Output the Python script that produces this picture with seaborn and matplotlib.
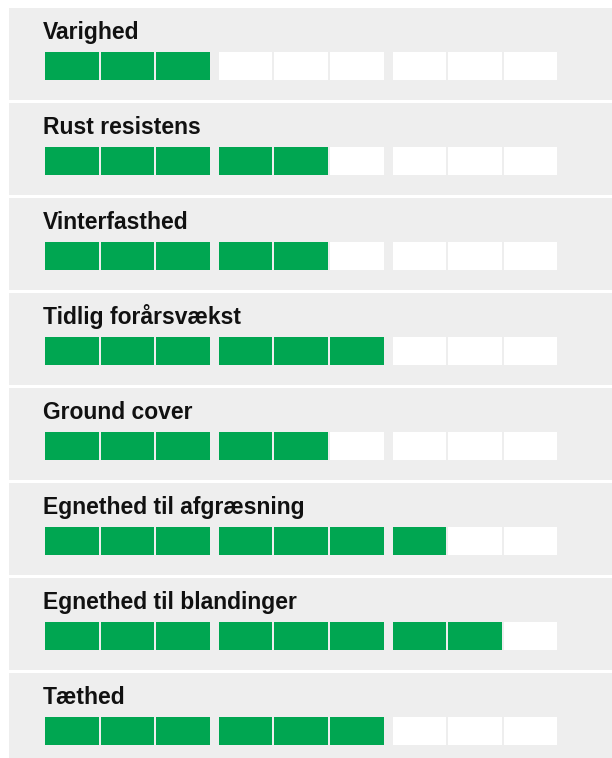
import matplotlib
matplotlib.use("Agg")
import matplotlib.pyplot as plt
import seaborn as sns
import numpy as np

# data
traits = ["Varighed", "Rust resistens", "Vinterfasthed", "Tidlig forårsvækst",
          "Ground cover", "Egnethed til afgræsning", "Egnethed til blandinger", "Tæthed"]
scores = [3, 5, 5, 6, 5, 7, 8, 6]
max_score = 9

sns.set_theme(style="white")
plt.rcParams['font.family'] = ['Liberation Sans', 'DejaVu Sans']

GREEN = "#00a651"
PANEL = "#eeeeee"

fig = plt.figure(figsize=(6.12, 7.58), dpi=100)
ax = fig.add_axes([0, 0, 1, 1])
ax.set_xlim(0, 612)
ax.set_ylim(758, 0)
ax.axis("off")

# layout in pixels
panel_x, panel_w, panel_h, panel_step, panel_top0 = 9, 610, 92, 95, 8
cell_x0, cell_step, group_gap, cell_w = 45, 55.6, 7, 53.5
cell_dy, cell_h = 44, 28

tops = panel_top0 + np.arange(len(traits)) * panel_step
ax.bar(panel_x, panel_h, width=panel_w, bottom=tops, align="edge", color=PANEL, linewidth=0)

idx = np.arange(max_score)
lefts = cell_x0 + idx * cell_step + (idx // 3) * group_gap
for top, name, s in zip(tops, traits, scores):
    ax.text(43, top + 31, name, fontsize=16.5, fontweight="bold", color="#111111",
            va="baseline", ha="left")
    colors = [GREEN if i < s else "white" for i in idx]
    ax.bar(lefts, cell_h, width=cell_w, bottom=top + cell_dy, align="edge",
           color=colors, linewidth=0)

fig.savefig("out.png", dpi=100)
